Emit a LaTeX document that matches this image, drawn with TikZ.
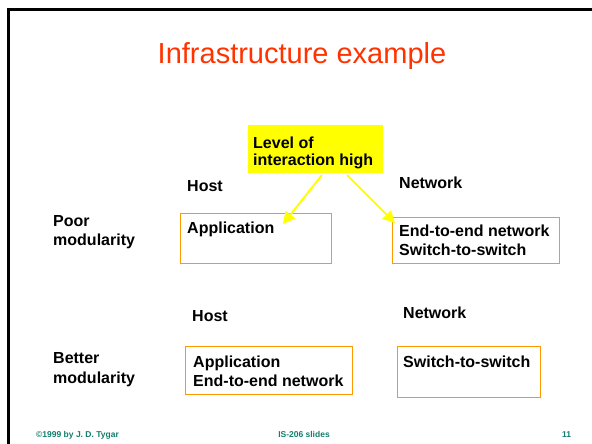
\documentclass[tikz,border=0pt]{standalone}
\usepackage{fontspec}
\setmainfont{Liberation Sans}
\usetikzlibrary{arrows.meta}
\definecolor{titlered}{RGB}{255,51,0}
\definecolor{boxorange}{RGB}{255,153,0}
\definecolor{hiyellow}{RGB}{255,255,0}
\definecolor{footteal}{RGB}{20,125,110}
\begin{document}
\begin{tikzpicture}[x=1pt,y=-1pt,
  lbl/.style={font=\bfseries\fontsize{16}{19}\selectfont, anchor=base west, inner sep=0pt},
  obox/.style={draw=boxorange, line width=0.9pt, rectangle, inner sep=0pt},
  foot/.style={font=\bfseries\fontsize{8.5}{10}\selectfont, text=footteal, anchor=base, inner sep=0pt},
  yarrow/.style={draw=hiyellow, line width=2pt, -{Triangle[length=12pt,width=12pt]}}]
\useasboundingbox (0,0) rectangle (592,444);
% slide frame
\draw[gray!60, line width=1pt] (7,444) -- (7,8.2) -- (592,8.2);
\draw[line width=3pt] (8.3,444) -- (8.3,10) -- (592,10);
% title
\node[font=\fontsize{29}{34}\selectfont, text=titlered, anchor=base, inner sep=0pt] (title) at (302,64) {Infrastructure example};
% highlight box
\node[fill=hiyellow, rectangle, inner sep=0pt, minimum width=135pt, minimum height=48pt] (lvl) at (315.5,149) {};
\node[lbl] (lvlA) at (253,148) {Level of};
\node[lbl] (lvlB) at (253,165) {interaction high};
% boxes
\node[obox, minimum width=151pt, minimum height=50pt] (box1) at (255.5,238) {};
\node[obox, minimum width=167pt, minimum height=46pt] (box2) at (475.5,240) {};
\node[obox, minimum width=167pt, minimum height=48pt] (box3) at (268.5,370) {};
\node[obox, minimum width=143pt, minimum height=51pt] (box4) at (468.5,371.5) {};
% labels top
\node[lbl] (host1) at (187,191) {Host};
\node[lbl] (net1) at (399,188) {Network};
\node[lbl] (poorA) at (53,226) {Poor};
\node[lbl] (poorB) at (53,245) {modularity};
\node[lbl] (app1) at (187,233) {Application};
\node[lbl] (eteA) at (399,236) {End-to-end network};
\node[lbl] (swA) at (399,255) {Switch-to-switch};
% labels bottom
\node[lbl] (host2) at (192,321) {Host};
\node[lbl] (net2) at (403,318) {Network};
\node[lbl] (betA) at (53,363) {Better};
\node[lbl] (betB) at (53,383) {modularity};
\node[lbl] (app2) at (193,367) {Application};
\node[lbl] (eteB) at (193,386) {End-to-end network};
\node[lbl] (swB) at (403,367) {Switch-to-switch};
% arrows
\coordinate (s1) at (322,175);
\coordinate (t1) at (283,224);
\coordinate (s2) at (347,175);
\coordinate (t2) at (395,223);
\draw[yarrow] (s1) -- (t1);
\draw[yarrow] (s2) -- (t2);
% footer
\node[foot, anchor=base west] (copy) at (36,437) {©1999 by J. D. Tygar};
\node[foot] (slides) at (304,437) {IS-206 slides};
\node[foot, anchor=base west] (pg) at (562,437) {11};
\end{tikzpicture}
\end{document}
